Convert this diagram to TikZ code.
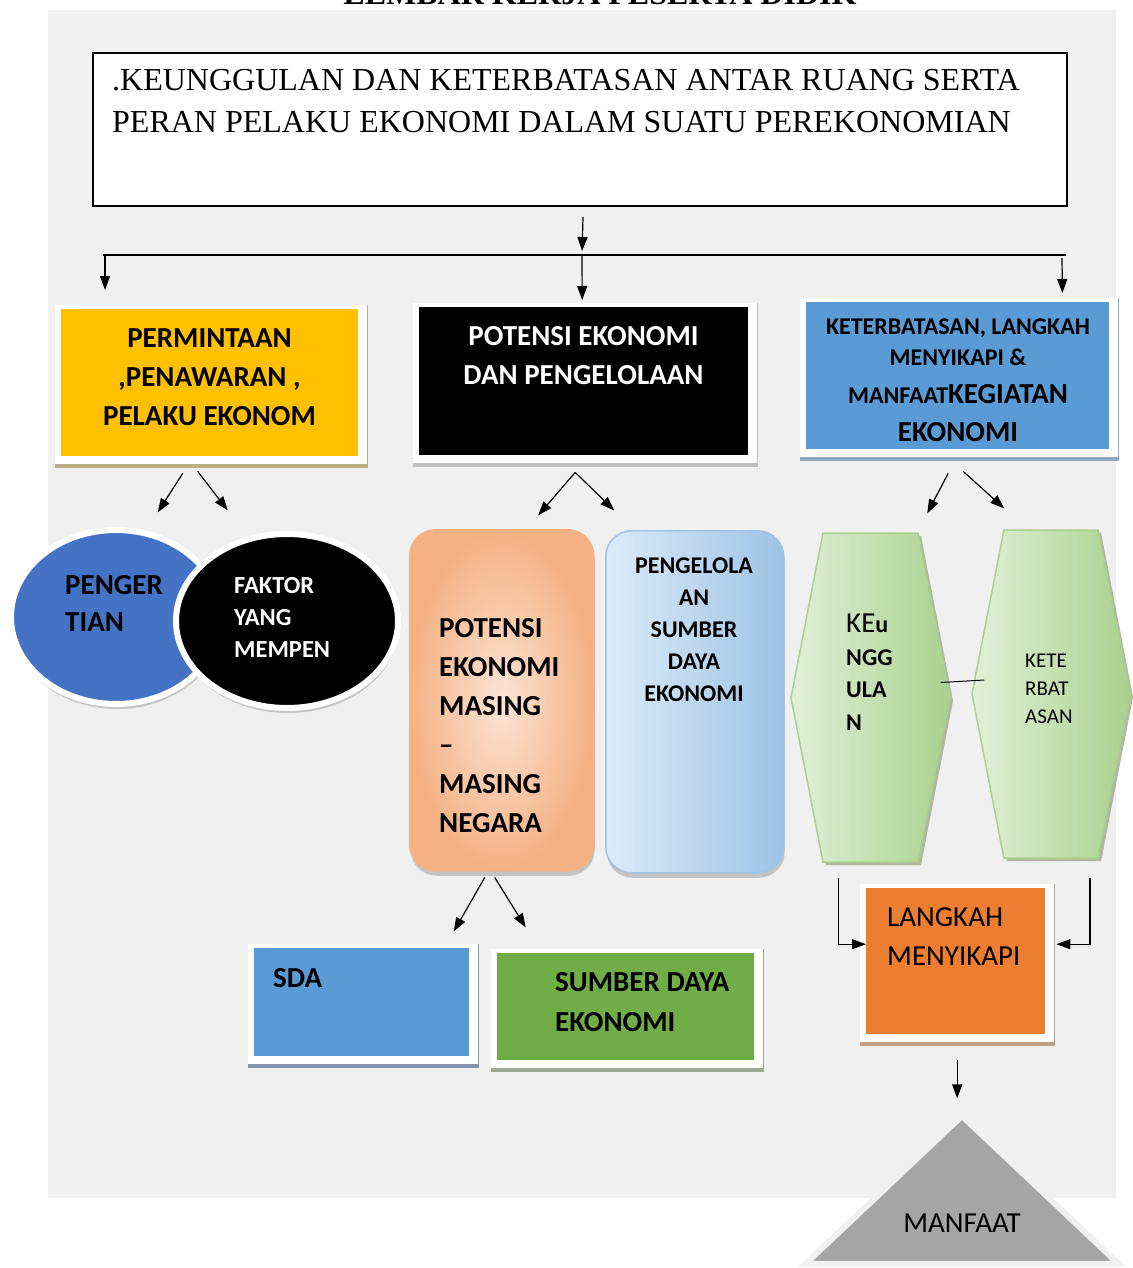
\documentclass[tikz,border=0pt]{standalone}
\usepackage{fontspec}
\setmainfont{Carlito}
\newfontfamily\serifhead{Liberation Serif}
\usepackage{tikz}
\usetikzlibrary{shapes.geometric, shapes.symbols, arrows.meta, positioning, calc, backgrounds, shadows}

\definecolor{pagegrey}{HTML}{F0F0F0}
\definecolor{permyellow}{HTML}{FFC000}
\definecolor{ketblue}{HTML}{5B9BD5}
\definecolor{circblue}{HTML}{4472C4}
\definecolor{sdagreen}{HTML}{70AD47}
\definecolor{langorange}{HTML}{ED7D31}
\definecolor{manfgrey}{HTML}{A5A5A5}
\definecolor{peachlight}{HTML}{FCE4D6}
\definecolor{peachdark}{HTML}{F4B183}
\definecolor{skylight}{HTML}{DDEBF7}
\definecolor{skydark}{HTML}{9DC3E6}
\definecolor{mintlight}{HTML}{E2F0D9}
\definecolor{mintdark}{HTML}{A9D18E}
\definecolor{tanedge}{HTML}{BCAF88}
\definecolor{greyedge}{HTML}{BFBFBF}
\definecolor{blueedge}{HTML}{8EA9C1}
\definecolor{sdaedge}{HTML}{8497B0}
\definecolor{oliveedge}{HTML}{A0A88E}
\definecolor{brownedge}{HTML}{BF9F86}

% white frame with a coloured edge behind a box
\newcommand{\framebehind}[2]{%
    \fill[white] ($(#1.north west)+(-6,-4)$) rectangle ($(#1.south east)+(10,12)$);
    \draw[#2, line width=4pt] ($(#1.south west)+(-6,10)$) -- ($(#1.south east)+(10,10)$);
    \draw[#2, line width=1.5pt] ($(#1.north east)+(9,-4)$) -- ($(#1.south east)+(9,12)$);
}

\begin{document}
\begin{tikzpicture}[
    x=1pt, y=-1pt,
    box/.style={rectangle, inner sep=0pt, anchor=north west},
    txt/.style={inner sep=0pt, anchor=north west, align=left},
    ctxt/.style={inner sep=0pt, anchor=north, align=center},
    soft/.style={drop shadow={shadow xshift=1pt, shadow yshift=-5pt, fill=black!35, opacity=.6}},
    hexa/.style={signal, signal to=east and west, signal pointer angle=158, inner sep=0pt,
        left color=mintlight, right color=mintdark, draw=mintdark, line width=1.5pt,
        drop shadow={shadow xshift=3pt, shadow yshift=-3pt, fill=oliveedge, opacity=.8}},
    arr/.style={-{Triangle[length=14pt, width=10pt]}, line width=1.2pt},
]
    \useasboundingbox (0,0) rectangle (1132,1268);

    % heading, cut by the page edge
    \node[inner sep=0pt, anchor=base, font=\serifhead\bfseries\fontsize{32}{38}\selectfont] (lembar) at (600,5) {LEMBAR KERJA PESERTA DIDIK};

    % title box
    \node[box, fill=white, draw=black, line width=2pt, minimum width=974, minimum height=153] (judul) at (92,52) {};
    \node[txt, font=\serifhead\fontsize{32}{42}\selectfont] (judultxt) at (112,69.4)
        {.KEUNGGULAN DAN KETERBATASAN ANTAR RUANG SERTA\\PERAN PELAKU EKONOMI DALAM SUATU PEREKONOMIAN};

    % row 1: three topics
    \node[box, fill=permyellow, minimum width=297, minimum height=147] (perm) at (61,309) {};
    \node[ctxt, font=\bfseries\fontsize{29}{39}\selectfont] (permtxt) at (209.5,328.7)
        {PERMINTAAN\\,PENAWARAN ,\\PELAKU EKONOM};
    \node[box, fill=black, minimum width=329, minimum height=148] (potensi) at (419,307) {};
    \node[ctxt, text=white, font=\bfseries\fontsize{29}{39}\selectfont] (potensitxt) at (583.5,326.7)
        {POTENSI EKONOMI\\DAN PENGELOLAAN};
    \node[box, fill=ketblue, minimum width=303, minimum height=147] (ket) at (806,302) {};
    \node[ctxt, font=\bfseries\fontsize{24}{31}\selectfont] (kettxt) at (958,318.3)
        {KETERBATASAN, LANGKAH\\MENYIKAPI \&\\[7.6pt]MANFAAT{\fontsize{29}{31}\selectfont KEGIATAN}\\[7pt]{\fontsize{29}{31}\selectfont EKONOMI}};

    % row 2: ellipses
    \node[ellipse, fill=circblue, draw=white, line width=6pt, minimum width=210, minimum height=174, soft] (pengertian) at (116,617) {};
    \node[txt, font=\bfseries\fontsize{29}{37}\selectfont] (pengertiantxt) at (65,575.7) {PENGER\\TIAN};
    \node[ellipse, fill=black, draw=white, line width=6pt, minimum width=222, minimum height=174, soft] (faktor) at (287,621) {};
    \node[txt, text=white, font=\bfseries\fontsize{24.5}{32}\selectfont] (faktortxt) at (234,577) {FAKTOR\\YANG\\MEMPEN};

    % row 2: rounded boxes
    \node[box, rounded corners=26pt, minimum width=184, minimum height=341, inner color=peachlight,
        outer color=peachdark, draw=peachdark, line width=1.5pt, soft] (masing) at (409,529) {};
    \node[txt, font=\bfseries\fontsize{29}{39}\selectfont] (masingtxt) at (439,618.7)
        {POTENSI\\EKONOMI\\MASING\\--\\MASING\\NEGARA};
    \node[box, rounded corners=26pt, minimum width=178, minimum height=342, left color=skylight,
        right color=skydark, draw=skydark, line width=1.5pt, soft] (kelola) at (605,530) {};
    \node[ctxt, font=\bfseries\fontsize{24}{32}\selectfont] (kelolatxt) at (694,557.3)
        {PENGELOLA\\AN\\SUMBER\\DAYA\\EKONOMI};

    % row 2: hexagons
    \node[hexa, minimum width=159, minimum height=329] (keunggulan) at (870.5,697.5) {};
    \node[txt, font=\bfseries\fontsize{24}{32.5}\selectfont] (keunggulantxt) at (846,613.7)
        {{\mdseries\fontsize{29}{32.5}\selectfont KE}u\\NGG\\ULA\\N};
    \node[hexa, minimum width=158, minimum height=328] (keterbatasan) at (1051,694) {};
    \node[txt, font=\fontsize{21}{28}\selectfont] (keterbatasantxt) at (1025,654.2) {KETE\\RBAT\\ASAN};

    % row 3
    \node[box, fill=ketblue, minimum width=215, minimum height=108] (sda) at (254,948) {};
    \node[txt, font=\bfseries\fontsize{29}{40}\selectfont] (sdatxt) at (273,968.7) {SDA};
    \node[box, fill=sdagreen, minimum width=257, minimum height=107] (sumber) at (497,953) {};
    \node[txt, font=\bfseries\fontsize{29}{40}\selectfont] (sumbertxt) at (555,972.7) {SUMBER DAYA\\EKONOMI};
    \node[box, fill=langorange, minimum width=179, minimum height=146] (langkah) at (866,888) {};
    \node[txt, font=\fontsize{29}{39}\selectfont] (langkahtxt) at (887,907.7) {LANGKAH\\MENYIKAPI};

    % result
    \node[isosceles triangle, isosceles triangle stretches, shape border rotate=90, anchor=apex,
        minimum width=313, minimum height=148, inner sep=0pt, fill=manfgrey, draw=black!6, line width=6pt] (manfaat) at (962,1108) {};
    \node[ctxt, font=\fontsize{29}{32}\selectfont] (manfaattxt) at (962,1213.7) {MANFAAT};

    % trunk arrows
    \coordinate (bar) at (582,255);
    \coordinate (barL) at (103,255);
    \coordinate (barR) at (1066,255);
    \draw[arr, shorten >=4pt] ($(judul.south)+(3,10)$) -- (bar);
    \draw[line width=1.5pt] (barL) -- (barR);
    \draw[arr] ($(barL)+(2,0)$) -- ($(perm.north west)+(44,-19)$);
    \draw[arr] (bar) -- ($(potensi.north)+(-1.5,-7)$);
    \draw[arr] ($(barR)+(-4,3)$) -- ($(ket.north east)+(-47,-9)$);

    % branch arrows
    \draw[arr] ($(perm.south)+(-27,17)$) -- ($(perm.south)+(-52,56)$);
    \draw[arr] ($(perm.south)+(-12,15)$) -- ($(perm.south)+(18,54)$);
    \draw[arr] ($(potensi.south)+(-8.5,17)$) -- ($(potensi.south)+(-45.5,60)$);
    \draw[arr] ($(potensi.south)+(-8.5,17)$) -- ($(potensi.south)+(30.5,55)$);
    \draw[arr] ($(ket.south)+(-9.5,24)$) -- ($(ket.south)+(-30.5,64)$);
    \draw[arr] ($(ket.south)+(5.5,22)$) -- ($(ket.south)+(46.5,59)$);
    \draw[arr] ($(masing.south)+(-17,6)$) -- ($(masing.south)+(-48,60)$);
    \draw[arr] ($(masing.south)+(-7,6)$) -- ($(masing.south)+(24,56)$);

    % hexagons to langkah
    \draw[line width=1pt] ($(keunggulan.east)+(-10,-15)$) -- ($(keterbatasan.west)+(13,-14)$);
    \draw[arr] ($(keunggulan.south)+(-32,15)$) |- ([yshift=17pt]langkah.west);
    \draw[arr, shorten >=11pt] ($(keterbatasan.south)+(39,19)$) |- ([yshift=17pt]langkah.east);
    \draw[arr] ($(langkah.south)+(1.5,26)$) -- ($(langkah.south)+(1.5,64)$);

    % page and box frames
    \begin{scope}[on background layer]
        \fill[pagegrey] (48,10) rectangle (1116,1198);
        \framebehind{perm}{tanedge}
        \framebehind{potensi}{greyedge}
        \framebehind{ket}{blueedge}
        \framebehind{sda}{sdaedge}
        \framebehind{sumber}{oliveedge}
        \framebehind{langkah}{brownedge}
    \end{scope}
\end{tikzpicture}
\end{document}
